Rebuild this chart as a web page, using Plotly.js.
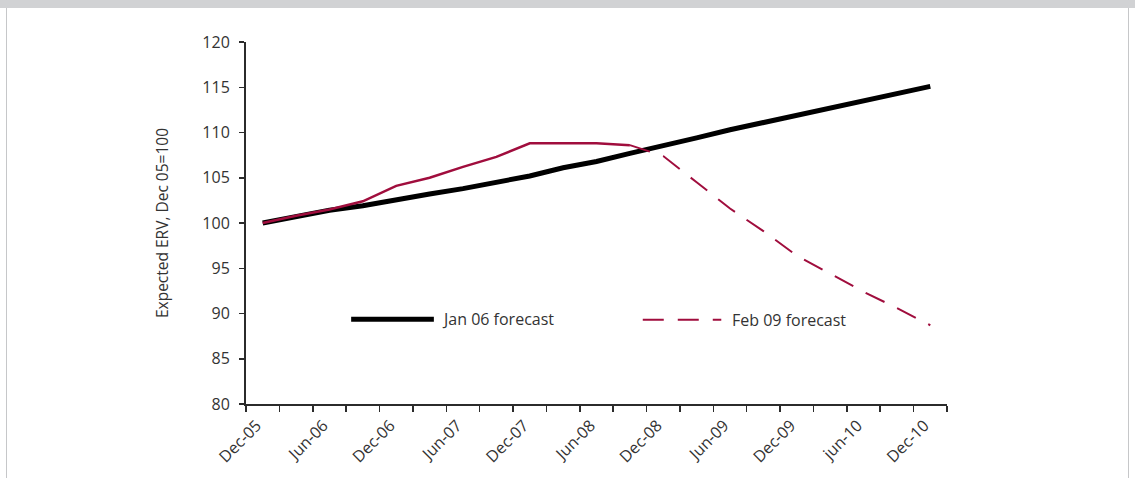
<!DOCTYPE html>
<html>
<head>
<meta charset="utf-8">
<script src="https://cdn.plot.ly/plotly-3.0.1.min.js"></script>
<style>
  html, body { margin: 0; padding: 0; background: #ffffff; }
  #wrap { position: relative; width: 1135px; height: 478px; overflow: hidden; }
  #chart { position: absolute; left: 0; top: 0; width: 1135px; height: 478px; }
  .frame { position: absolute; pointer-events: none; }
</style>
</head>
<body>
<div id="wrap">
  <div id="chart"></div>
  <div class="frame" style="left:0;top:0;width:1135px;height:8px;background:#d1d2d4;"></div>
  <div class="frame" style="left:6px;top:8px;width:1px;height:470px;background:#c6c7c9;"></div>
  <div class="frame" style="left:1128px;top:8px;width:1px;height:470px;background:#c6c7c9;"></div>
</div>
<script>
// Quarterly index of expected rental values, Dec 05 = 100
const quarters = ['Dec-05','Mar-06','Jun-06','Sep-06','Dec-06','Mar-07','Jun-07','Sep-07',
                  'Dec-07','Mar-08','Jun-08','Sep-08','Dec-08','Mar-09','Jun-09','Sep-09',
                  'Dec-09','Mar-10','Jun-10','Sep-10','Dec-10'];
// Labels shown on every second quarter
const axisLabels = ['Dec-05','Jun-06','Dec-06','Jun-07','Dec-07','Jun-08',
                    'Dec-08','Jun-09','Dec-09','jun-10','Dec-10'];

const seriesNames = ['Jan 06 forecast', 'Feb 09 forecast'];

// Jan 06 forecast, Dec-05 .. Dec-10
const jan06Forecast = [100.0, 100.7, 101.4, 101.9, 102.6, 103.2, 103.8, 104.5, 105.2, 106.1,
                       106.8, 107.7, 108.5, 109.4, 110.3, 111.1, 112.0, 112.7, 113.5, 114.3, 115.1];
// Recorded path, Dec-05 .. Sep-08
const outturn = [100.0, 100.8, 101.5, 102.4, 104.1, 105.0, 106.2, 107.3, 108.8, 108.8, 108.8, 108.6];
// Feb 09 forecast, Sep-08 .. Dec-10
const feb09Forecast = [108.6, 107.4, 104.5, 101.6, 99.1, 96.4, 94.4, 92.4, 90.6, 88.7];

const RED = '#a00d3d';
const TEXT = '#333333';
const FONT = '"Open Sans", "DejaVu Sans", sans-serif';

const outturnX = quarters.slice(0, outturn.length);
const feb09X = quarters.slice(quarters.length - feb09Forecast.length);

const traces = [
  {
    type: 'scatter', mode: 'lines', name: seriesNames[0],
    x: quarters, y: jan06Forecast,
    line: { color: '#000000', width: 5 }, hoverinfo: 'x+y'
  },
  {
    type: 'scatter', mode: 'lines', name: 'Outturn',
    x: outturnX, y: outturn,
    line: { color: RED, width: 2.5 }, hoverinfo: 'x+y'
  },
  {
    type: 'scatter', mode: 'lines', name: seriesNames[1],
    x: feb09X, y: feb09Forecast,
    line: { color: RED, width: 2, dash: '21px,14px' }, hoverinfo: 'x+y'
  }
];

const tickText = quarters.map((q, i) => (i % 2 === 0 ? axisLabels[i / 2] : ''));

const layout = {
  width: 1135, height: 478,
  margin: { l: 246, r: 188, t: 42, b: 74, pad: 0 },
  paper_bgcolor: 'rgba(0,0,0,0)',
  plot_bgcolor: 'rgba(0,0,0,0)',
  showlegend: false,
  font: { family: FONT, size: 16, color: TEXT },
  xaxis: {
    type: 'category',
    categoryorder: 'array', categoryarray: quarters,
    range: [-0.5, quarters.length - 0.5],
    tickmode: 'array', tickvals: quarters, ticktext: tickText,
    tickson: 'boundaries',
    ticks: 'outside', ticklen: 6, tickwidth: 1.5, tickcolor: '#2b2b2b',
    tickangle: -45,
    ticklabelshift: -6, ticklabelstandoff: 4,
    tickfont: { family: FONT, size: 16, color: TEXT },
    showline: true, linecolor: '#2b2b2b', linewidth: 2,
    showgrid: false, zeroline: false, fixedrange: true
  },
  yaxis: {
    range: [80, 120], dtick: 5, tick0: 80,
    ticks: 'outside', ticklen: 5, tickwidth: 1.5, tickcolor: '#2b2b2b',
    ticklabelstandoff: 6,
    tickfont: { family: FONT, size: 16, color: TEXT },
    showline: true, linecolor: '#2b2b2b', linewidth: 2,
    showgrid: false, zeroline: false, fixedrange: true,
    title: { text: 'Expected ERV, Dec 05=100', font: { family: FONT, size: 15.5, color: TEXT }, standoff: 30 },
    automargin: true
  },
  shapes: [
    { type: 'line', xref: 'paper', yref: 'paper', x0: 0.150, x1: 0.268, y0: 0.234, y1: 0.234,
      line: { color: '#000000', width: 5 } },
    { type: 'line', xref: 'paper', yref: 'paper', x0: 0.566, x1: 0.678, y0: 0.233, y1: 0.233,
      line: { color: RED, width: 2, dash: '21px,14px' } }
  ],
  annotations: [
    { xref: 'paper', yref: 'paper', x: 0.277, y: 0.234, xanchor: 'left', yanchor: 'middle',
      text: seriesNames[0], showarrow: false, font: { family: FONT, size: 16, color: TEXT } },
    { xref: 'paper', yref: 'paper', x: 0.690, y: 0.233, xanchor: 'left', yanchor: 'middle',
      text: seriesNames[1], showarrow: false, font: { family: FONT, size: 16, color: TEXT } }
  ]
};

Plotly.newPlot('chart', traces, layout, { displayModeBar: false, staticPlot: true });
</script>
</body>
</html>
